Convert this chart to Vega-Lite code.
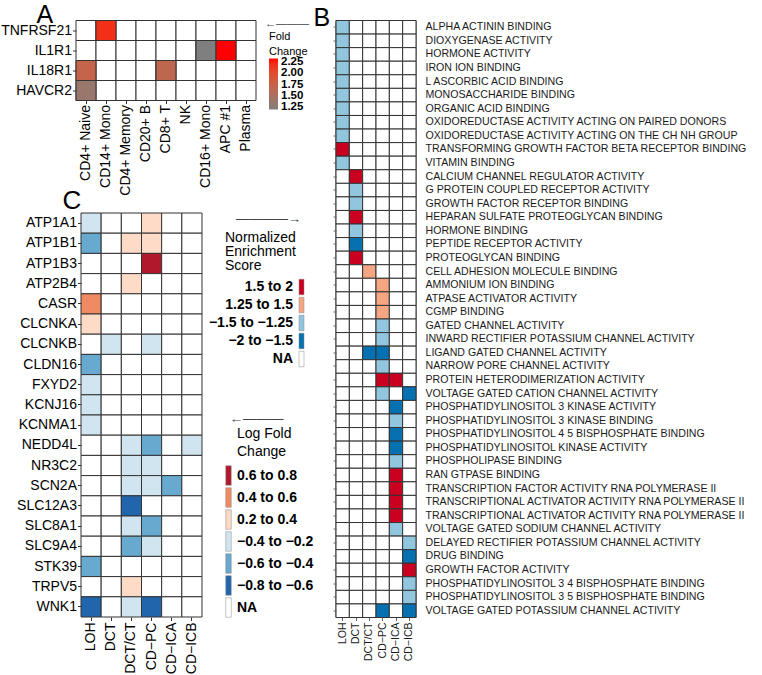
{
  "$schema": "https://vega.github.io/schema/vega-lite/v6.json",
  "autosize": "none",
  "padding": {"left": 76, "top": 20.5, "right": 686, "bottom": 654.5},
  "config": {
    "font": "Liberation Sans",
    "view": {"stroke": null},
    "axis": {"domain": false, "grid": false, "tickColor": "#333", "labelColor": "#000", "titleColor": "#000"},
    "legend": {"padding": 0, "rowPadding": 0, "labelColor": "#000", "titleColor": "#000"}
  },
  "datasets": {
    "A": [
      {"gene": "TNFRSF21", "CD14+ Mono": 2.2},
      {"gene": "IL1R1", "CD16+ Mono": 1.2, "APC #1": 2.33},
      {"gene": "IL18R1", "CD4+ Naive": 1.72, "CD8+ T": 1.68},
      {"gene": "HAVCR2", "CD4+ Naive": 1.38}
    ],
    "B": [
      {"term": "ALPHA ACTININ BINDING", "LOH": "−1.5 to −1.25", "DCT": "NA", "DCT/CT": "NA", "CD−PC": "NA", "CD−ICA": "NA", "CD−ICB": "NA"},
      {"term": "DIOXYGENASE ACTIVITY", "LOH": "−1.5 to −1.25", "DCT": "NA", "DCT/CT": "NA", "CD−PC": "NA", "CD−ICA": "NA", "CD−ICB": "NA"},
      {"term": "HORMONE ACTIVITY", "LOH": "−1.5 to −1.25", "DCT": "NA", "DCT/CT": "NA", "CD−PC": "NA", "CD−ICA": "NA", "CD−ICB": "NA"},
      {"term": "IRON ION BINDING", "LOH": "−1.5 to −1.25", "DCT": "NA", "DCT/CT": "NA", "CD−PC": "NA", "CD−ICA": "NA", "CD−ICB": "NA"},
      {"term": "L ASCORBIC ACID BINDING", "LOH": "−1.5 to −1.25", "DCT": "NA", "DCT/CT": "NA", "CD−PC": "NA", "CD−ICA": "NA", "CD−ICB": "NA"},
      {"term": "MONOSACCHARIDE BINDING", "LOH": "−1.5 to −1.25", "DCT": "NA", "DCT/CT": "NA", "CD−PC": "NA", "CD−ICA": "NA", "CD−ICB": "NA"},
      {"term": "ORGANIC ACID BINDING", "LOH": "−1.5 to −1.25", "DCT": "NA", "DCT/CT": "NA", "CD−PC": "NA", "CD−ICA": "NA", "CD−ICB": "NA"},
      {"term": "OXIDOREDUCTASE ACTIVITY ACTING ON PAIRED DONORS", "LOH": "−1.5 to −1.25", "DCT": "NA", "DCT/CT": "NA", "CD−PC": "NA", "CD−ICA": "NA", "CD−ICB": "NA"},
      {"term": "OXIDOREDUCTASE ACTIVITY ACTING ON THE CH NH GROUP", "LOH": "−1.5 to −1.25", "DCT": "NA", "DCT/CT": "NA", "CD−PC": "NA", "CD−ICA": "NA", "CD−ICB": "NA"},
      {"term": "TRANSFORMING GROWTH FACTOR BETA RECEPTOR BINDING", "LOH": "1.5 to 2", "DCT": "NA", "DCT/CT": "NA", "CD−PC": "NA", "CD−ICA": "NA", "CD−ICB": "NA"},
      {"term": "VITAMIN BINDING", "LOH": "−1.5 to −1.25", "DCT": "NA", "DCT/CT": "NA", "CD−PC": "NA", "CD−ICA": "NA", "CD−ICB": "NA"},
      {"term": "CALCIUM CHANNEL REGULATOR ACTIVITY", "LOH": "NA", "DCT": "1.5 to 2", "DCT/CT": "NA", "CD−PC": "NA", "CD−ICA": "NA", "CD−ICB": "NA"},
      {"term": "G PROTEIN COUPLED RECEPTOR ACTIVITY", "LOH": "NA", "DCT": "−1.5 to −1.25", "DCT/CT": "NA", "CD−PC": "NA", "CD−ICA": "NA", "CD−ICB": "NA"},
      {"term": "GROWTH FACTOR RECEPTOR BINDING", "LOH": "NA", "DCT": "−1.5 to −1.25", "DCT/CT": "NA", "CD−PC": "NA", "CD−ICA": "NA", "CD−ICB": "NA"},
      {"term": "HEPARAN SULFATE PROTEOGLYCAN BINDING", "LOH": "NA", "DCT": "1.5 to 2", "DCT/CT": "NA", "CD−PC": "NA", "CD−ICA": "NA", "CD−ICB": "NA"},
      {"term": "HORMONE BINDING", "LOH": "NA", "DCT": "−1.5 to −1.25", "DCT/CT": "NA", "CD−PC": "NA", "CD−ICA": "NA", "CD−ICB": "NA"},
      {"term": "PEPTIDE RECEPTOR ACTIVITY", "LOH": "NA", "DCT": "−2 to −1.5", "DCT/CT": "NA", "CD−PC": "NA", "CD−ICA": "NA", "CD−ICB": "NA"},
      {"term": "PROTEOGLYCAN BINDING", "LOH": "NA", "DCT": "1.5 to 2", "DCT/CT": "NA", "CD−PC": "NA", "CD−ICA": "NA", "CD−ICB": "NA"},
      {"term": "CELL ADHESION MOLECULE BINDING", "LOH": "NA", "DCT": "NA", "DCT/CT": "1.25 to 1.5", "CD−PC": "NA", "CD−ICA": "NA", "CD−ICB": "NA"},
      {"term": "AMMONIUM ION BINDING", "LOH": "NA", "DCT": "NA", "DCT/CT": "NA", "CD−PC": "1.25 to 1.5", "CD−ICA": "NA", "CD−ICB": "NA"},
      {"term": "ATPASE ACTIVATOR ACTIVITY", "LOH": "NA", "DCT": "NA", "DCT/CT": "NA", "CD−PC": "1.25 to 1.5", "CD−ICA": "NA", "CD−ICB": "NA"},
      {"term": "CGMP BINDING", "LOH": "NA", "DCT": "NA", "DCT/CT": "NA", "CD−PC": "1.25 to 1.5", "CD−ICA": "NA", "CD−ICB": "NA"},
      {"term": "GATED CHANNEL ACTIVITY", "LOH": "NA", "DCT": "NA", "DCT/CT": "NA", "CD−PC": "−1.5 to −1.25", "CD−ICA": "NA", "CD−ICB": "NA"},
      {"term": "INWARD RECTIFIER POTASSIUM CHANNEL ACTIVITY", "LOH": "NA", "DCT": "NA", "DCT/CT": "NA", "CD−PC": "−1.5 to −1.25", "CD−ICA": "NA", "CD−ICB": "NA"},
      {"term": "LIGAND GATED CHANNEL ACTIVITY", "LOH": "NA", "DCT": "NA", "DCT/CT": "−2 to −1.5", "CD−PC": "−2 to −1.5", "CD−ICA": "NA", "CD−ICB": "NA"},
      {"term": "NARROW PORE CHANNEL ACTIVITY", "LOH": "NA", "DCT": "NA", "DCT/CT": "NA", "CD−PC": "−1.5 to −1.25", "CD−ICA": "NA", "CD−ICB": "NA"},
      {"term": "PROTEIN HETERODIMERIZATION ACTIVITY", "LOH": "NA", "DCT": "NA", "DCT/CT": "NA", "CD−PC": "1.5 to 2", "CD−ICA": "1.5 to 2", "CD−ICB": "NA"},
      {"term": "VOLTAGE GATED CATION CHANNEL ACTIVITY", "LOH": "NA", "DCT": "NA", "DCT/CT": "NA", "CD−PC": "−1.5 to −1.25", "CD−ICA": "NA", "CD−ICB": "−2 to −1.5"},
      {"term": "PHOSPHATIDYLINOSITOL 3 KINASE ACTIVITY", "LOH": "NA", "DCT": "NA", "DCT/CT": "NA", "CD−PC": "NA", "CD−ICA": "−2 to −1.5", "CD−ICB": "NA"},
      {"term": "PHOSPHATIDYLINOSITOL 3 KINASE BINDING", "LOH": "NA", "DCT": "NA", "DCT/CT": "NA", "CD−PC": "NA", "CD−ICA": "−1.5 to −1.25", "CD−ICB": "NA"},
      {"term": "PHOSPHATIDYLINOSITOL 4 5 BISPHOSPHATE BINDING", "LOH": "NA", "DCT": "NA", "DCT/CT": "NA", "CD−PC": "NA", "CD−ICA": "−2 to −1.5", "CD−ICB": "NA"},
      {"term": "PHOSPHATIDYLINOSITOL KINASE ACTIVITY", "LOH": "NA", "DCT": "NA", "DCT/CT": "NA", "CD−PC": "NA", "CD−ICA": "−2 to −1.5", "CD−ICB": "NA"},
      {"term": "PHOSPHOLIPASE BINDING", "LOH": "NA", "DCT": "NA", "DCT/CT": "NA", "CD−PC": "NA", "CD−ICA": "−1.5 to −1.25", "CD−ICB": "NA"},
      {"term": "RAN GTPASE BINDING", "LOH": "NA", "DCT": "NA", "DCT/CT": "NA", "CD−PC": "NA", "CD−ICA": "1.5 to 2", "CD−ICB": "NA"},
      {"term": "TRANSCRIPTION FACTOR ACTIVITY RNA POLYMERASE II", "LOH": "NA", "DCT": "NA", "DCT/CT": "NA", "CD−PC": "NA", "CD−ICA": "1.5 to 2", "CD−ICB": "NA"},
      {"term": "TRANSCRIPTIONAL ACTIVATOR ACTIVITY RNA POLYMERASE II", "LOH": "NA", "DCT": "NA", "DCT/CT": "NA", "CD−PC": "NA", "CD−ICA": "1.5 to 2", "CD−ICB": "NA"},
      {"term": "TRANSCRIPTIONAL ACTIVATOR ACTIVITY RNA POLYMERASE II ", "LOH": "NA", "DCT": "NA", "DCT/CT": "NA", "CD−PC": "NA", "CD−ICA": "1.5 to 2", "CD−ICB": "NA"},
      {"term": "VOLTAGE GATED SODIUM CHANNEL ACTIVITY", "LOH": "NA", "DCT": "NA", "DCT/CT": "NA", "CD−PC": "NA", "CD−ICA": "−1.5 to −1.25", "CD−ICB": "NA"},
      {"term": "DELAYED RECTIFIER POTASSIUM CHANNEL ACTIVITY", "LOH": "NA", "DCT": "NA", "DCT/CT": "NA", "CD−PC": "NA", "CD−ICA": "NA", "CD−ICB": "−1.5 to −1.25"},
      {"term": "DRUG BINDING", "LOH": "NA", "DCT": "NA", "DCT/CT": "NA", "CD−PC": "NA", "CD−ICA": "NA", "CD−ICB": "−2 to −1.5"},
      {"term": "GROWTH FACTOR ACTIVITY", "LOH": "NA", "DCT": "NA", "DCT/CT": "NA", "CD−PC": "NA", "CD−ICA": "NA", "CD−ICB": "1.5 to 2"},
      {"term": "PHOSPHATIDYLINOSITOL 3 4 BISPHOSPHATE BINDING", "LOH": "NA", "DCT": "NA", "DCT/CT": "NA", "CD−PC": "NA", "CD−ICA": "NA", "CD−ICB": "−1.5 to −1.25"},
      {"term": "PHOSPHATIDYLINOSITOL 3 5 BISPHOSPHATE BINDING", "LOH": "NA", "DCT": "NA", "DCT/CT": "NA", "CD−PC": "NA", "CD−ICA": "NA", "CD−ICB": "−1.5 to −1.25"},
      {"term": "VOLTAGE GATED POTASSIUM CHANNEL ACTIVITY", "LOH": "NA", "DCT": "NA", "DCT/CT": "NA", "CD−PC": "−2 to −1.5", "CD−ICA": "NA", "CD−ICB": "−2 to −1.5"}
    ],
    "C": [
      {"gene": "ATP1A1", "LOH": "−0.4 to −0.2", "DCT": "NA", "DCT/CT": "NA", "CD−PC": "0.2 to 0.4", "CD−ICA": "NA", "CD−ICB": "NA"},
      {"gene": "ATP1B1", "LOH": "−0.6 to −0.4", "DCT": "NA", "DCT/CT": "0.2 to 0.4", "CD−PC": "0.2 to 0.4", "CD−ICA": "NA", "CD−ICB": "NA"},
      {"gene": "ATP1B3", "LOH": "NA", "DCT": "NA", "DCT/CT": "NA", "CD−PC": "0.6 to 0.8", "CD−ICA": "NA", "CD−ICB": "NA"},
      {"gene": "ATP2B4", "LOH": "NA", "DCT": "NA", "DCT/CT": "0.2 to 0.4", "CD−PC": "NA", "CD−ICA": "NA", "CD−ICB": "NA"},
      {"gene": "CASR", "LOH": "0.4 to 0.6", "DCT": "NA", "DCT/CT": "NA", "CD−PC": "NA", "CD−ICA": "NA", "CD−ICB": "NA"},
      {"gene": "CLCNKA", "LOH": "0.2 to 0.4", "DCT": "NA", "DCT/CT": "NA", "CD−PC": "NA", "CD−ICA": "NA", "CD−ICB": "NA"},
      {"gene": "CLCNKB", "LOH": "NA", "DCT": "−0.4 to −0.2", "DCT/CT": "NA", "CD−PC": "−0.4 to −0.2", "CD−ICA": "NA", "CD−ICB": "NA"},
      {"gene": "CLDN16", "LOH": "−0.6 to −0.4", "DCT": "NA", "DCT/CT": "NA", "CD−PC": "NA", "CD−ICA": "NA", "CD−ICB": "NA"},
      {"gene": "FXYD2", "LOH": "−0.4 to −0.2", "DCT": "NA", "DCT/CT": "NA", "CD−PC": "NA", "CD−ICA": "NA", "CD−ICB": "NA"},
      {"gene": "KCNJ16", "LOH": "−0.4 to −0.2", "DCT": "NA", "DCT/CT": "NA", "CD−PC": "NA", "CD−ICA": "NA", "CD−ICB": "NA"},
      {"gene": "KCNMA1", "LOH": "−0.4 to −0.2", "DCT": "NA", "DCT/CT": "NA", "CD−PC": "NA", "CD−ICA": "NA", "CD−ICB": "NA"},
      {"gene": "NEDD4L", "LOH": "NA", "DCT": "NA", "DCT/CT": "−0.4 to −0.2", "CD−PC": "−0.6 to −0.4", "CD−ICA": "NA", "CD−ICB": "−0.4 to −0.2"},
      {"gene": "NR3C2", "LOH": "NA", "DCT": "NA", "DCT/CT": "−0.4 to −0.2", "CD−PC": "−0.4 to −0.2", "CD−ICA": "NA", "CD−ICB": "NA"},
      {"gene": "SCN2A", "LOH": "NA", "DCT": "NA", "DCT/CT": "−0.4 to −0.2", "CD−PC": "−0.4 to −0.2", "CD−ICA": "−0.6 to −0.4", "CD−ICB": "NA"},
      {"gene": "SLC12A3", "LOH": "NA", "DCT": "NA", "DCT/CT": "−0.8 to −0.6", "CD−PC": "NA", "CD−ICA": "NA", "CD−ICB": "NA"},
      {"gene": "SLC8A1", "LOH": "NA", "DCT": "NA", "DCT/CT": "−0.4 to −0.2", "CD−PC": "−0.6 to −0.4", "CD−ICA": "NA", "CD−ICB": "NA"},
      {"gene": "SLC9A4", "LOH": "NA", "DCT": "NA", "DCT/CT": "−0.6 to −0.4", "CD−PC": "−0.4 to −0.2", "CD−ICA": "NA", "CD−ICB": "NA"},
      {"gene": "STK39", "LOH": "−0.6 to −0.4", "DCT": "NA", "DCT/CT": "NA", "CD−PC": "NA", "CD−ICA": "NA", "CD−ICB": "NA"},
      {"gene": "TRPV5", "LOH": "NA", "DCT": "NA", "DCT/CT": "0.2 to 0.4", "CD−PC": "NA", "CD−ICA": "NA", "CD−ICB": "NA"},
      {"gene": "WNK1", "LOH": "−0.8 to −0.6", "DCT": "NA", "DCT/CT": "−0.4 to −0.2", "CD−PC": "−0.8 to −0.6", "CD−ICA": "NA", "CD−ICB": "NA"}
    ]
  },
  "bounds": "flush",
  "spacing": 260,
  "resolve": {"scale": {"color": "independent", "x": "independent", "y": "independent"}},
  "hconcat": [
    {
      "bounds": "flush",
      "spacing": 112.5,
      "resolve": {"scale": {"color": "independent", "x": "independent", "y": "independent"}},
      "vconcat": [
        {
          "width": 180,
          "height": 80,
          "data": {"name": "A"},
          "transform": [{"fold": ["CD4+ Naive", "CD14+ Mono", "CD4+ Memory", "CD20+ B", "CD8+ T", "NK", "CD16+ Mono", "APC #1", "Plasma"], "as": ["cell", "v"]}],
          "encoding": {
            "x": {"field": "cell", "type": "nominal", "sort": null,
              "scale": {"paddingInner": 0, "paddingOuter": 0},
              "axis": {"orient": "bottom", "labelAngle": -90, "labelFontSize": 14, "tickSize": 3, "labelPadding": 1,
                "title": "←———", "titleX": 210.5, "titleY": -77.5, "titleAngle": 0, "titleAlign": "center", "titleBaseline": "middle",
                "titleFontSize": 11, "titleFontWeight": "normal", "titleColor": "#444"}},
            "y": {"field": "gene", "type": "nominal", "sort": null,
              "scale": {"paddingInner": 0, "paddingOuter": 0},
              "axis": {"orient": "left", "labelFontSize": 14, "tickSize": 3.5, "labelPadding": 1,
                "title": "A", "titleX": -40, "titleY": 1.5, "titleAngle": 0, "titleAlign": "left", "titleBaseline": "alphabetic",
                "titleFontSize": 25, "titleFontWeight": "normal"}}
          },
          "layer": [
            {"mark": {"type": "rect", "fill": "white", "stroke": "#333", "strokeWidth": 1}},
            {
              "transform": [{"filter": "isValid(datum.v)"}],
              "mark": {"type": "rect", "stroke": "#333", "strokeWidth": 1},
              "encoding": {
                "color": {"field": "v", "type": "quantitative",
                  "scale": {"domain": [1.2, 2.33], "range": ["#7f7f7f", "#ff0000"], "interpolate": "lab", "clamp": true},
                  "legend": {"orient": "none", "legendX": 193, "legendY": 10, "title": ["Fold", "Change"],
                    "titleFontSize": 11, "titleFontWeight": "normal", "titleLineHeight": 15, "titlePadding": 2,
                    "direction": "vertical", "gradientLength": 51, "gradientThickness": 9, "gradientStrokeWidth": 0,
                    "values": [1.25, 1.5, 1.75, 2, 2.25], "format": ".2f", "labelFontSize": 11.5, "labelFontWeight": "bold",
                    "labelOffset": 3, "labelOverlap": false}}
              }
            }
          ]
        },
        {
          "width": 126,
          "height": 404,
          "data": {"name": "C"},
          "transform": [{"fold": ["LOH", "DCT", "DCT/CT", "CD−PC", "CD−ICA", "CD−ICB"], "as": ["cell", "v"]}],
          "mark": {"type": "rect", "stroke": "#333", "strokeWidth": 1},
          "encoding": {
            "x": {"field": "cell", "type": "nominal", "sort": null,
              "scale": {"range": [5, 126], "paddingInner": 0, "paddingOuter": 0},
              "axis": {"orient": "bottom", "labelAngle": -90, "labelFontSize": 14, "tickSize": 3.5, "labelPadding": 1.5,
                "title": "←———", "titleX": 180, "titleY": -198.5, "titleAngle": 0, "titleAlign": "center", "titleBaseline": "middle",
                "titleFontSize": 13.5, "titleFontWeight": "normal", "titleColor": "#444"}},
            "y": {"field": "gene", "type": "nominal", "sort": null,
              "scale": {"paddingInner": 0, "paddingOuter": 0},
              "axis": {"orient": "left", "offset": -5, "labelFontSize": 14, "tickSize": 3.5, "labelPadding": 1,
                "title": "C", "titleX": -19, "titleY": -5, "titleAngle": 0, "titleAlign": "left", "titleBaseline": "alphabetic",
                "titleFontSize": 26, "titleFontWeight": "normal"}},
            "color": {"field": "v", "type": "nominal",
              "scale": {"domain": ["0.6 to 0.8", "0.4 to 0.6", "0.2 to 0.4", "−0.4 to −0.2", "−0.6 to −0.4", "−0.8 to −0.6", "NA"],
                "range": ["#b2182b", "#ef8a62", "#fddbc7", "#d1e5f0", "#67a9cf", "#2166ac", "#ffffff"]},
              "legend": {"orient": "none", "legendX": 161, "legendY": 214,
                "title": ["Log Fold", "Change"],
                "titleFontSize": 14, "titleFontWeight": "normal", "titleLineHeight": 18, "titlePadding": 6.5,
                "symbolType": "M-0.282,-1H0.282V1H-0.282Z", "symbolSize": 380.25, "symbolOffset": -18.5,
                "symbolStrokeColor": "#888", "symbolStrokeWidth": 0.5,
                "labelAlign": "left", "labelOffset": -1.5, "labelFontSize": 14, "labelFontWeight": "bold", "rowPadding": 0}}
          }
        }
      ]
    },
    {
      "width": 80,
      "height": 597,
      "data": {"name": "B"},
      "transform": [{"fold": ["LOH", "DCT", "DCT/CT", "CD−PC", "CD−ICA", "CD−ICB"], "as": ["cell", "v"]}],
      "encoding": {
        "x": {"field": "cell", "type": "nominal", "sort": null,
          "scale": {"paddingInner": 0, "paddingOuter": 0},
          "axis": {"orient": "bottom", "labelAngle": -90, "labelFontSize": 10.5, "labelColor": "#1a1a1a", "tickSize": 3, "tickColor": "#666", "labelPadding": 1.5, "title": null}},
        "color": {"field": "v", "type": "nominal",
          "scale": {"domain": ["1.5 to 2", "1.25 to 1.5", "−1.5 to −1.25", "−2 to −1.5", "NA"],
            "range": ["#ca0020", "#f4a582", "#92c5de", "#0571b0", "#ffffff"]},
          "legend": {"orient": "none", "legendX": -111, "legendY": 210.5,
            "title": ["Normalized", "Enrichment", "Score"],
            "titleFontSize": 14, "titleFontWeight": "normal", "titleLineHeight": 14, "titlePadding": 6,
            "symbolType": "M-0.3226,-1H0.3226V1H-0.3226Z", "symbolSize": 240.25, "symbolOffset": 68.5,
            "symbolStrokeColor": "#888", "symbolStrokeWidth": 0.5,
            "labelAlign": "right", "labelOffset": -16.5, "labelFontSize": 14, "labelFontWeight": "bold", "rowPadding": 0}}
      },
      "layer": [
        {
          "mark": {"type": "rect", "stroke": "#333", "strokeWidth": 1},
          "encoding": {
            "y": {"field": "term", "type": "nominal", "sort": null,
              "scale": {"paddingInner": 0, "paddingOuter": 0},
              "axis": {"orient": "left", "labels": false, "ticks": true, "tickSize": 3, "tickColor": "#666",
                "title": "B", "titleX": -23, "titleY": 4.5, "titleAngle": 0, "titleAlign": "left", "titleBaseline": "alphabetic",
                "titleFontSize": 25, "titleFontWeight": "normal"}}
          }
        },
        {
          "mark": {"type": "rect", "stroke": "#333", "strokeWidth": 1},
          "encoding": {
            "y": {"field": "term", "type": "nominal", "sort": null,
              "scale": {"paddingInner": 0, "paddingOuter": 0},
              "axis": {"orient": "right", "ticks": false, "tickSize": 0, "labelPadding": 9, "labelFontSize": 10.6, "labelColor": "#1a1a1a", "labelLimit": 400,
                "title": "————→", "titleX": -148, "titleY": 197.5, "titleAngle": 0, "titleAlign": "center", "titleBaseline": "middle",
                "titleFontSize": 13, "titleFontWeight": "normal", "titleColor": "#444"}}
          }
        }
      ]
    }
  ]
}
